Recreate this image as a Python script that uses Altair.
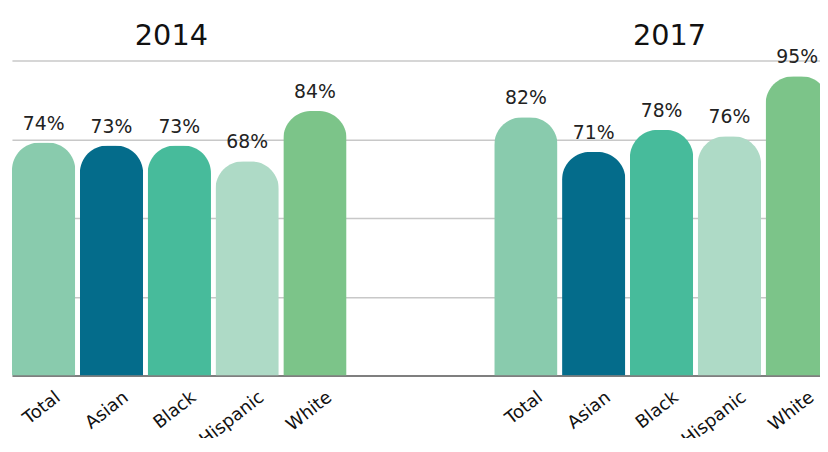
import altair as alt
import pandas as pd

years = ["2014", "2017"]
groups = ["Total", "Asian", "Black", "Hispanic", "White"]
values_2014 = [74, 73, 73, 68, 84]
values_2017 = [82, 71, 78, 76, 95]
colors = ["#89CBAD", "#046C8B", "#47BB9B", "#AEDAC6", "#7CC489"]

rows = []
for yr, vals in zip(years, [values_2014, values_2017]):
    for g, v in zip(groups, vals):
        rows.append({"year": yr, "group": g, "value": v, "label": f"{v}%"})
df = pd.DataFrame(rows)
titles = pd.DataFrame({"year": years})

FONT = "DejaVu Sans"

# band range runs a little past the plot's right edge so the last bar is cut like the reference
xscale = alt.Scale(domain=years, range=[0, 825], paddingInner=0.306, paddingOuter=0)
x = alt.X("year:N", scale=xscale,
          axis=alt.Axis(labels=False, ticks=False, domain=True, domainColor="#7f7f7f",
                        domainWidth=2, title=None, grid=False))
xo = alt.XOffset("group:N", scale=alt.Scale(domain=groups, paddingInner=0.066, paddingOuter=0))
y = alt.Y("value:Q", scale=alt.Scale(domain=[0, 100]),
          axis=alt.Axis(values=[25, 50, 75, 100], labels=False, ticks=False, domain=False,
                        title=None, grid=True, gridColor="#c8c8c8", gridWidth=1.5))
color = alt.Color("group:N", scale=alt.Scale(domain=groups, range=colors), legend=None)

base = alt.Chart(df)

bars = base.mark_bar(cornerRadiusTopLeft=28, cornerRadiusTopRight=28).encode(
    x=x, xOffset=xo, y=y, color=color
)

pct = base.mark_text(dy=-9, baseline="bottom", fontSize=19, font=FONT, color="#222222").encode(
    x=x, xOffset=xo, y=y, text="label:N"
)

cats = base.mark_text(angle=322, align="right", baseline="middle", dx=19, fontSize=18,
                      font=FONT, color="#111111").encode(
    x=x, xOffset=xo, y=alt.value(350), text="group:N"
)

t2014 = alt.Chart(titles).transform_filter(alt.datum.year == "2014").mark_text(
    fontSize=29, font=FONT, baseline="alphabetic", dx=-8, color="#111111"
).encode(x=alt.X("year:N", scale=xscale), y=alt.value(-16), text="year:N")

t2017 = alt.Chart(titles).transform_filter(alt.datum.year == "2017").mark_text(
    fontSize=29, font=FONT, baseline="alphabetic", dx=8, color="#111111"
).encode(x=alt.X("year:N", scale=xscale), y=alt.value(-16), text="year:N")

chart = alt.layer(bars, pct, cats, t2014, t2017).properties(
    width=816, height=318,
    autosize=alt.AutoSizeParams(type="none"),
    padding={"left": 4, "top": 51, "right": 0, "bottom": 61},
).configure_view(stroke=None)

chart.save("out.html", embed_options={"renderer": "svg", "actions": False})
